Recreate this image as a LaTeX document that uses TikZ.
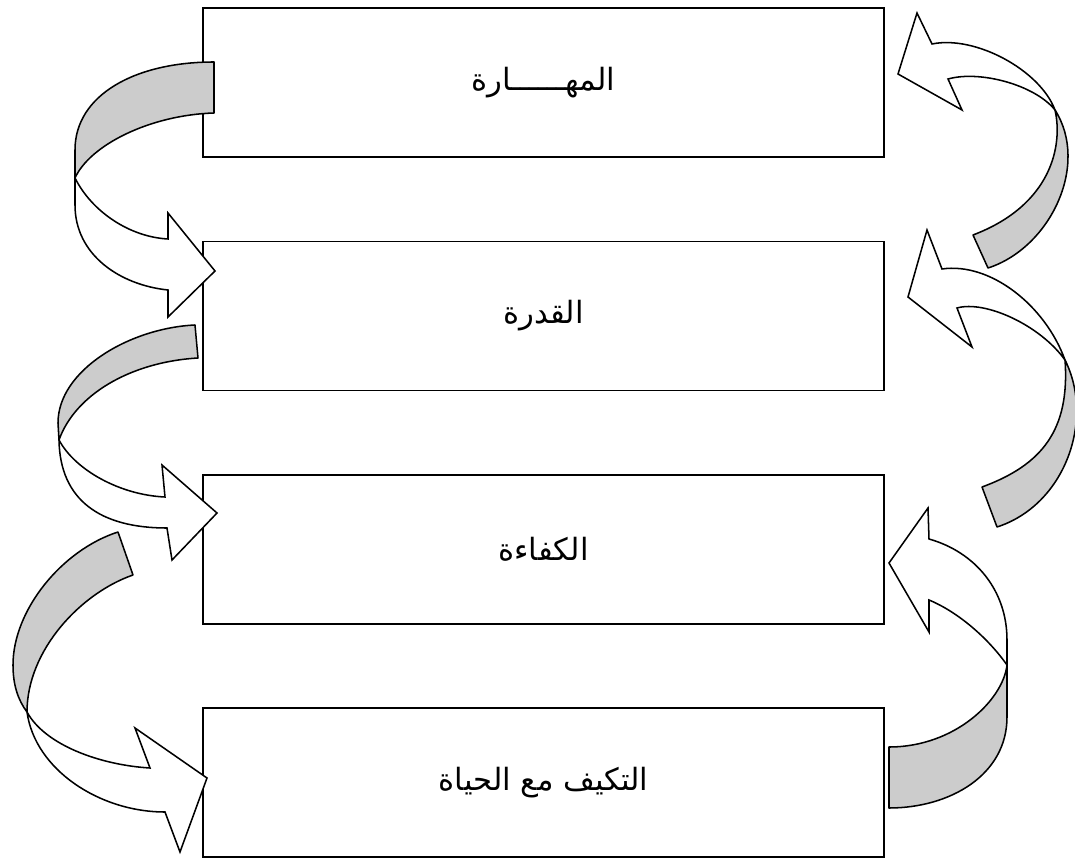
\documentclass[tikz,border=0pt]{standalone}
\usepackage{fontspec}
\TeXXeTstate=1
\newfontfamily\arabicfont[Script=Arabic]{DejaVu Sans}
\definecolor{backgray}{RGB}{204,204,204}
\begin{document}
\begin{tikzpicture}[x=0.75pt,y=-0.75pt,
  box/.style={draw=black, line width=1.4pt, rectangle, minimum width=510.75pt,
    minimum height=111.75pt, inner sep=0pt, font=\arabicfont\fontsize{23}{27}\selectfont},
  back/.style={draw=black, line width=1.15pt, fill=backgray, line join=round},
  front/.style={draw=black, line width=1.15pt, fill=white, line join=miter}]
\useasboundingbox (0,0) rectangle (1075,859);

% boxes
\node[box] (b1) at (543.5,82.5) {\beginR المهــــــارة\endR};
\node[box] (b2) at (543.5,316) {\beginR القدرة\endR};
\node[box] (b3) at (543.5,549.5) {\beginR الكفاءة\endR};
\node[box] (b4) at (543.5,782.5) {\beginR التكيف مع الحياة\endR};

% left arrow 1 (b1 -> b2)
\path[back] (214,62) .. controls (135,62) and (75,95) .. (75,150) -- (75,178)
  .. controls (90,145) and (150,115) .. (214,113) -- cycle;
\path[front] (75,178) -- (75,205) .. controls (75,255) and (120,285) .. (168,290)
  -- (168,317) -- (215,271) -- (168,213) -- (168,239)
  .. controls (130,237) and (92,212) .. (75,178) -- cycle;

% left arrow 2 (b2 -> b3)
\path[back] (195,325) .. controls (130,328) and (58,370) .. (58,423) -- (59,440)
  .. controls (75,395) and (130,362) .. (198,358) -- cycle;
\path[front] (59,440) .. controls (60,500) and (100,528) .. (167,528)
  -- (172,560) -- (217,513) -- (162,465) -- (165,497)
  .. controls (120,495) and (75,470) .. (59,440) -- cycle;

% left arrow 3 (b3 -> b4)
\path[back] (118,532) .. controls (62,550) and (13,610) .. (13,665)
  .. controls (13,685) and (18,700) .. (27,712)
  .. controls (27,650) and (81,593) .. (133,575) -- cycle;
\path[front] (27,712) .. controls (35,770) and (100,812) .. (165,812)
  -- (180,852) -- (207,778) -- (135,728) -- (150,768)
  .. controls (100,765) and (45,745) .. (27,712) -- cycle;

% right arrow 1 (b2 -> b1)
\path[back] (1055,110) .. controls (1090,165) and (1050,248) .. (988,268) -- (973,235)
  .. controls (1052,205) and (1063,145) .. (1055,110) -- cycle;
\path[front] (932,44) .. controls (975,35) and (1040,70) .. (1055,110)
  .. controls (1035,85) and (980,70) .. (948,79)
  -- (962,110) -- (898,74) -- (917,13) -- cycle;

% right arrow 2 (b3 -> b2)
\path[back] (1065,360) .. controls (1095,420) and (1065,505) .. (997,527) -- (982,487)
  .. controls (1042,465) and (1070,430) .. (1065,360) -- cycle;
\path[front] (942,269) .. controls (990,262) and (1045,305) .. (1065,360)
  .. controls (1040,325) and (985,300) .. (957,308)
  -- (972,347) -- (908,297) -- (927,230) -- cycle;

% right arrow 3 (b4 -> b3)
\path[back] (1007,665) -- (1007,717) .. controls (1007,775) and (950,808) .. (889,808)
  -- (889,747) .. controls (955,747) and (1003,700) .. (1007,665) -- cycle;
\path[front] (929,539) .. controls (975,552) and (1007,590) .. (1007,640) -- (1007,665)
  .. controls (988,638) and (958,612) .. (929,600)
  -- (929,632) -- (889,563) -- (928,508) -- cycle;
\end{tikzpicture}
\end{document}
